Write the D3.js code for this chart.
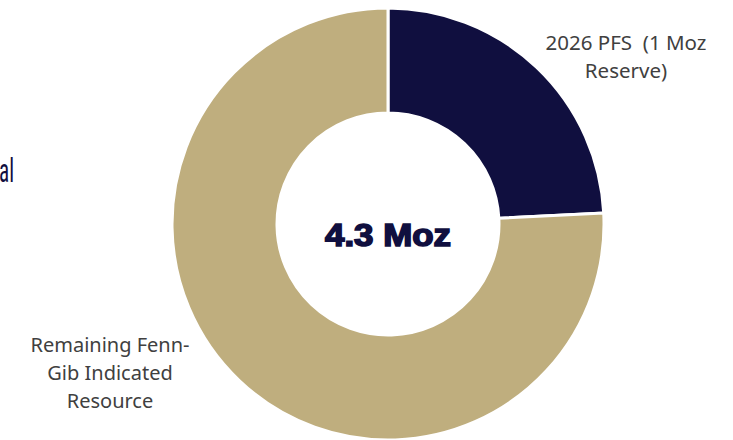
<!DOCTYPE html>
<html>
<head>
<meta charset="utf-8">
<script src="https://cdn.jsdelivr.net/npm/d3@7"></script>
<style>
  html, body { margin: 0; padding: 0; background: #fff; overflow: hidden; }
</style>
</head>
<body>
<script>
// slices, clockwise from 12 o'clock
const categories = ['2026 PFS (1 Moz Reserve)', 'Remaining Fenn-Gib Indicated Resource'];
const values = [1.04, 3.26];
const sliceColors = ['#100f3f', '#bfae7e'];
const labelLines = [
  ['2026 PFS  (1 Moz', 'Reserve)'],
  ['Remaining Fenn-', 'Gib Indicated', 'Resource']
];
const labelAnchors = [[626, 50], [110, 352]];
const centerLabel = '4.3 Moz';

const width = 733;
const height = 440;
const cx = 388;
const cy = 224;
const outerR = 216;
const innerR = 111;

const svg = d3.select('body').append('svg')
  .attr('width', width)
  .attr('height', height);

const data = categories.map((c, i) => ({ name: c, value: values[i], color: sliceColors[i], lines: labelLines[i], at: labelAnchors[i] }));

const pie = d3.pie()
  .sort(null)
  .value(d => d.value);

const arc = d3.arc()
  .innerRadius(innerR)
  .outerRadius(outerR);

const g = svg.append('g')
  .attr('transform', `translate(${cx}, ${cy})`);

g.selectAll('.Slice')
  .data(pie(data))
  .enter()
  .append('path')
  .attr('class', 'Slice')
  .attr('d', arc)
  .attr('fill', d => d.data.color)
  .attr('stroke', '#fff')
  .attr('stroke-width', 3);

g.append('text')
  .attr('x', 0)
  .attr('y', 22)
  .attr('text-anchor', 'middle')
  .attr('font-family', '"Liberation Sans", Arial, sans-serif')
  .attr('font-weight', 900)
  .attr('font-size', 31)
  .attr('fill', '#100f3f')
  .attr('stroke', '#100f3f')
  .attr('stroke-width', 1.6)
  .attr('textLength', 126)
  .attr('lengthAdjust', 'spacingAndGlyphs')
  .text(centerLabel);

// slice labels
const labels = svg.selectAll('.Label')
  .data(data)
  .enter()
  .append('text')
  .attr('class', 'Label')
  .attr('text-anchor', 'middle')
  .attr('font-family', '"Noto Sans", "Open Sans", sans-serif')
  .attr('font-size', (d, i) => i === 0 ? 20.5 : 20)
  .attr('fill', '#404040');

labels.selectAll('tspan')
  .data(d => d.lines.map((l, i) => ({ l, i, at: d.at })))
  .enter()
  .append('tspan')
  .attr('x', d => d.at[0])
  .attr('y', d => d.at[1] + d.i * 28)
  .attr('xml:space', 'preserve')
  .style('white-space', 'pre')
  .text(d => d.l);

// cut-off heading at left edge of the slide
svg.append('text')
  .attr('x', -1)
  .attr('y', 182)
  .attr('font-family', '"Liberation Sans Narrow", "Roboto Condensed", Roboto, sans-serif')
  .attr('font-size', 34)
  .attr('fill', '#100f3f')
  .attr('textLength', 15)
  .attr('lengthAdjust', 'spacingAndGlyphs')
  .text('al');
</script>
</body>
</html>
